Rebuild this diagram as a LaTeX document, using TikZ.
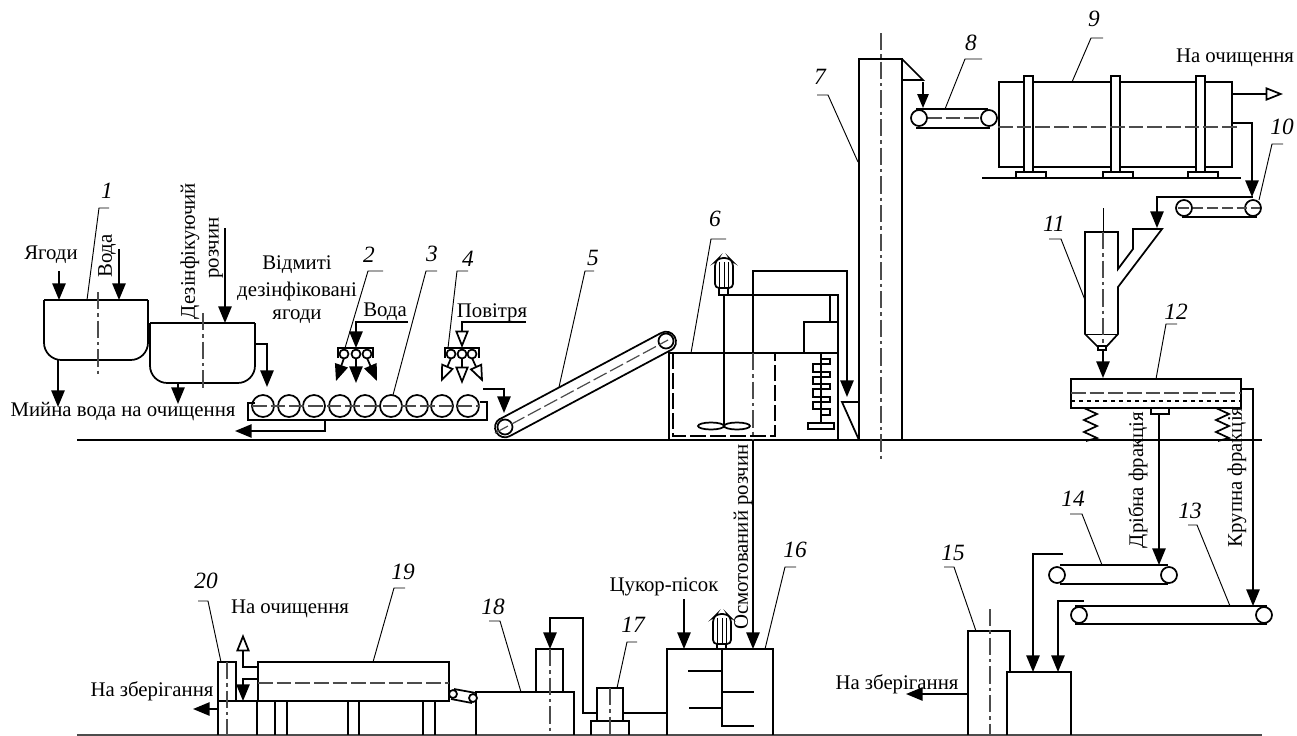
\documentclass[tikz,border=0pt]{standalone}
\usepackage{fontspec}
\setmainfont{Liberation Serif}
\usetikzlibrary{arrows.meta}
\tikzset{
  ln/.style={line width=1.3pt,line join=miter},
  thinl/.style={line width=.7pt},
  flow/.style={ln,-{Triangle[length=12.5pt,width=10pt]}},
  sflow/.style={ln,-{Triangle[length=10.5pt,width=8.5pt]}},
  oflow/.style={ln,-{Triangle[open,fill=white,length=13pt,width=10pt]}},
  ax/.style={line width=.8pt,black!70,dash pattern=on 13pt off 3pt on 2.5pt off 3pt},
  dsh/.style={line width=.9pt,black!70,dash pattern=on 11pt off 3pt},
  lbl/.style={inner sep=0pt,font=\fontsize{15.6}{17}\selectfont},
  vl/.style={lbl,rotate=90},
  num/.style={inner sep=0pt,font=\fontsize{17.5}{19}\selectfont\itshape},
  roll/.style={ln,fill=white},
}
\begin{document}
\begin{tikzpicture}[x=0.75pt,y=-0.75pt]
\useasboundingbox (0,0) rectangle (1297,736);
\fill[white] (0,0) rectangle (1297,736);

% floors
\draw[ln] (77,440) -- (1262,440);
\draw[ln,black!70] (77,735) -- (1262,735);

% tank 1
\draw[ln,rounded corners=13pt] (44,300) -- (44,360) -- (148,360) -- (148,300);
\draw[ln] (44,300) -- (148,300);
\draw[ax] (98,292) -- (98,377);
\draw[flow] (59,271) -- (59,300);
\draw[flow] (119,249) -- (119,300);
\draw[flow] (58,360) -- (58,407);
\draw[thinl] (87,300) -- (99,208) -- (109,208);
\node[num] (n1) at (107,191) {1};
\node[lbl] (t1) at (51,255) {Ягоди};
\node[vl] (t2) at (107,256) {Вода};
% tank 2
\draw[ln,rounded corners=13pt] (150,323) -- (150,383) -- (255,383) -- (255,323);
\draw[ln] (150,323) -- (255,323);
\draw[ax] (203,313) -- (203,390);
\draw[flow] (225,228) -- (225,323);
\draw[flow] (178,383) -- (178,404);
\draw[flow] (255,344) -- (267,344) -- (267,387);
\node[vl] (t3) at (190,251) {Дезінфікуючий};
\node[vl] (t4) at (216,248) {розчин};
\node[lbl] (t5) at (297,265) {Відмиті};
\node[lbl] (t6) at (297,291) {дезінфіковані};
\node[lbl] (t7) at (297,317) {ягоди};
\node[lbl] (t8) at (123,412) {Мийна вода на очищення};

% roller conveyor 3
\draw[ln] (255,403) -- (248,403) -- (248,420) -- (487,420) -- (487,402) -- (480,402);
\foreach \x in {263,289,314,340,365,391,417,442,468} \draw[ln] (\x,406) circle[radius=11];
\draw[dsh] (252,406) -- (480,406);
\draw[flow] (325,420) -- (325,431) -- (235,431);
\draw[thinl] (393,395) -- (426,271) -- (437,271);
\node[num] (n3) at (432,254) {3};

% nozzles 2
\draw[ln] (338,358) -- (338,348) -- (373,348) -- (373,358);
\foreach \x in {344,356,367} \draw[ln] (\x,354) circle[radius=4.5];
\draw[flow] (408,322) -- (356,322) -- (356,348);
\draw[flow] (356,358) -- (356,383);
\draw[flow] (344,358) -- (336,381);
\draw[flow] (367,358) -- (377,381);
\node[lbl] (t9) at (385,312) {Вода};
\draw[thinl] (345,348) -- (368,271) -- (383,271);
\node[num] (n2) at (369,255) {2};
% nozzles 4
\draw[ln] (445,358) -- (445,348) -- (479,348) -- (479,358);
\foreach \x in {451,462,472} \draw[ln] (\x,354) circle[radius=4.5];
\draw[oflow] (526,322) -- (462,322) -- (462,348);
\draw[oflow] (462,358) -- (462,384);
\draw[oflow] (451,358) -- (441,382);
\draw[oflow] (472,358) -- (483,382);
\node[lbl] (t10) at (492,313) {Повітря};
\draw[thinl] (448,348) -- (457,271) -- (468,271);
\node[num] (n4) at (468,259) {4};
\draw[flow] (483,389) -- (504,389) -- (504,413);

% inclined conveyor 5
\draw[ln] (500,419) -- (661,333);
\draw[ln] (510,436) -- (671,350);
\draw[ln] (510,436) arc[start angle=60,end angle=240,radius=10];
\draw[ln] (661,333) arc[start angle=240,end angle=420,radius=10];
\draw[ln] (505,427) circle[radius=7.5];
\draw[ln] (666,341) circle[radius=7.5];
\draw[dsh] (495,433) -- (668,340);
\draw[thinl] (559,387) -- (585,271) -- (594,271);
\node[num] (n5) at (593,258) {5};

% tank 6
\draw[ln] (669,440) -- (669,353) -- (838,353) -- (838,440);
\draw[ln,dash pattern=on 12pt off 3pt] (673,353) -- (673,436) -- (775,436) -- (775,353);
\draw[ax] (753,353) -- (753,440);
\draw[ln] (724,295) -- (724,425);
\draw[ln] (711,426) ellipse[x radius=13,y radius=3.5];
\draw[ln] (737,426) ellipse[x radius=13,y radius=3.5];
% motor 6
\draw[ln,rounded corners=3pt] (715,288) -- (715,262) -- (719,258) -- (729,258) -- (733,262) -- (733,288) -- cycle;
\foreach \x in {719.5,724,728.5} \draw[thinl] (\x,262) -- (\x,288);
\draw[ln] (719,288) rectangle (728,295);
\draw[ln] (728,295) -- (838,295) -- (838,353);
\draw[ln] (830,295) -- (830,322);
\draw[ln] (804,353) -- (804,322) -- (838,322);
\draw[flow] (753,353) -- (753,271) -- (847,271) -- (847,397);
% coil
\draw[ln] (821,353) -- (821,423);
\draw[ln] (821,359) -- (830,359) -- (830,364) -- (813,364) -- (813,372) -- (830,372) -- (830,377) -- (813,377) -- (813,384) -- (830,384) -- (830,389) -- (813,389) -- (813,397) -- (830,397) -- (830,402) -- (813,402) -- (813,409) -- (830,409) -- (830,415) -- (821,415);
\draw[ln] (808,423) rectangle (834,429);
\draw[thinl] (691,353) -- (711,239) -- (726,239);
\node[num] (n6) at (715,219) {6};
% chute
\draw[ln] (859,402) -- (842,402) -- (859,440);

% elevator 7
\draw[ln] (859,440) -- (859,59) -- (902,59) -- (902,440);
\draw[ax] (881,33) -- (881,460);
\draw[ln] (902,59) -- (923,80) -- (902,80);
\draw[thinl] (858,162) -- (828,95) -- (817,95);
\node[num] (n7) at (820,77) {7};
\draw[sflow] (923,82) -- (923,108);

% conveyor 8
\draw[ln] (916,109) -- (988,109);
\draw[ln] (916,128) -- (990,128);
\draw[dsh] (927,118) -- (981,118);
\draw[roll] (919,118) circle[radius=8];
\draw[roll] (989,118) circle[radius=8];
\draw[thinl] (945,109) -- (965,59) -- (982,59);
\node[num] (n8) at (971,43) {8};

% dryer 9
\draw[ln] (999,82) rectangle (1232,167);
\foreach \x in {1024,1111,1196} {
  \draw[ln,fill=white] (\x,76) rectangle (\x+9,172);
  \draw[ln] (\x-8,178) -- (\x-8,172) -- (\x+22,172) -- (\x+22,178);
}
\draw[dsh] (998,127) -- (1237,127);
\draw[ln] (982,178) -- (1241,178);
\draw[thinl] (1072,82) -- (1091,38) -- (1103,38);
\node[num] (n9) at (1094,19) {9};
\draw[oflow] (1232,94) -- (1283,94);
\node[lbl] (t11) at (1235,58) {На очищення};
\draw[flow] (1232,123) -- (1252,123) -- (1252,197);

% conveyor 10
\draw[flow] (1253,197) -- (1157,197) -- (1157,228);
\draw[ln] (1182,217) -- (1257,217);
\draw[roll] (1184,208) circle[radius=8];
\draw[roll] (1253,208) circle[radius=8];
\draw[dsh,dash pattern=on 8pt off 3pt] (1178,208) -- (1260,208);
\draw[thinl] (1259,200) -- (1272,144) -- (1283,144);
\node[num] (n10) at (1282,127) {10};

% cyclone 11
\draw[ln] (1085,334) -- (1085,232) -- (1118,232) -- (1118,269) -- (1133,249) -- (1133,229) -- (1162,229) -- (1118,287) -- (1118,334) -- (1107,346) -- (1097,346) -- (1085,334) -- cycle;
\draw[thinl] (1085,334) -- (1118,334);
\draw[ln] (1098,346) rectangle (1106,350);
\draw[thinl] (1103,208) -- (1103,232);
\draw[ax] (1103,232) -- (1103,346);
\draw[flow] (1103,350) -- (1103,378);
\draw[thinl] (1085,300) -- (1061,239) -- (1049,239);
\node[num] (n11) at (1054,224) {11};

% screen 12
\draw[ln] (1071,379) rectangle (1241,408);
\draw[dsh] (1071,393) -- (1241,393);
\draw[line width=2.2pt,dash pattern=on 3pt off 3pt] (1071,401) -- (1241,401);
\draw[thinl] (1156,379) -- (1166,324) -- (1177,324);
\node[num] (n12) at (1176,312) {12};
\draw[ln] (1084,408) -- (1097,414) -- (1084,420) -- (1097,426) -- (1084,432) -- (1097,438) -- (1086,441);
\draw[ln] (1216,408) -- (1229,414) -- (1216,420) -- (1229,426) -- (1216,432) -- (1229,438) -- (1218,441);
\draw[ln] (1151,408) rectangle (1169,414);
\draw[flow] (1159,414) -- (1159,565);
\draw[flow] (1241,389) -- (1253,389) -- (1253,606);
\node[vl] (t12) at (1138,480) {Дрібна фракція};
\node[vl] (t13) at (1237,477) {Крупна фракція};

% conveyor 14
\draw[ln] (1060,565) -- (1168,565);
\draw[ln] (1060,584) -- (1168,584);
\draw[roll] (1057,575) circle[radius=8];
\draw[roll] (1169,575) circle[radius=8];
\draw[thinl] (1102,565) -- (1082,514) -- (1070,514);
\node[num] (n14) at (1073,499) {14};
% conveyor 13
\draw[ln] (1075,606) -- (1267,606);
\draw[ln] (1075,624) -- (1267,624);
\draw[roll] (1079,615) circle[radius=8];
\draw[roll] (1264,615) circle[radius=8];
\draw[thinl] (1230,606) -- (1197,525) -- (1188,525);
\node[num] (n13) at (1190,511) {13};

% 15 and bunker
\draw[ln] (1007,735) -- (1007,672) -- (1071,672) -- (1071,735);
\draw[flow] (1063,554) -- (1033,554) -- (1033,672);
\draw[flow] (1084,601) -- (1058,601) -- (1058,672);
\draw[ln] (968,735) -- (968,631) -- (1010,631) -- (1010,672);
\draw[ax] (990,609) -- (990,735);
\draw[flow] (968,694) -- (906,694);
\draw[thinl] (976,631) -- (954,567) -- (944,567);
\node[num] (n15) at (953,553) {15};
\node[lbl] (t14) at (897,684) {На зберігання};

% tank 16
\draw[ln] (667,735) -- (667,649) -- (773,649) -- (773,735);
\draw[ln] (722,649) -- (722,726) -- (754,726);
\draw[ln] (688,671) -- (722,671);
\draw[ln] (689,708) -- (722,708);
\draw[ln] (722,692) -- (754,692);
\draw[ln,rounded corners=3pt] (713,644) -- (713,618) -- (717,614) -- (727,614) -- (731,618) -- (731,644) -- cycle;
\foreach \x in {717.5,722,726.5} \draw[thinl] (\x,618) -- (\x,644);
\draw[ln] (717,644) rectangle (726,649);
\draw[flow] (753,440) -- (753,649);
\node[vl] (t15) at (743,537) {Осмотований розчин};
\draw[flow] (684,599) -- (684,649);
\node[lbl] (t16) at (664,587) {Цукор-пісок};
\draw[thinl] (765,649) -- (785,567) -- (796,567);
\node[num] (n16) at (795,550) {16};

% 17
\draw[ln] (597,688) rectangle (623,721);
\draw[ln] (591,735) -- (591,721) -- (629,721) -- (629,735);
\draw[ax] (610,688) -- (610,735);
\draw[ln] (623,713) -- (667,713);
\draw[thinl] (617,688) -- (627,642) -- (637,642);
\node[num] (n17) at (633,625) {17};

% 18
\draw[ln] (476,735) -- (476,692) -- (574,692) -- (574,735);
\draw[ln] (536,692) -- (536,649) -- (563,649) -- (563,692);
\draw[flow] (597,713) -- (583,713) -- (583,618) -- (550,618) -- (550,649);
\draw[ax] (550,649) -- (550,735);
\draw[thinl] (521,692) -- (500,621) -- (489,621);
\node[num] (n18) at (493,607) {18};
% small conveyor
\draw[ln] (454,689) -- (476,693);
\draw[ln] (451,699) -- (472,703);
\draw[roll] (453,694) circle[radius=4];
\draw[roll] (473,698) circle[radius=4];

% 19
\draw[ln] (258,662) rectangle (449,701);
\draw[dsh] (258,683) -- (449,683);
\draw[ln] (218,701) -- (258,701);
\foreach \x in {257,275,287,348,359,423,435} \draw[ln] (\x,701) -- (\x,735);
\draw[thinl] (373,662) -- (394,588) -- (405,588);
\node[num] (n19) at (403,572) {19};
\node[lbl] (t17) at (290,609) {На очищення};
\draw[oflow] (258,667) -- (243,667) -- (243,634);
\draw[flow] (258,679) -- (243,679) -- (243,701);

% 20
\draw[ln] (218,735) -- (218,662) -- (236,662) -- (236,701);
\draw[ax] (227,662) -- (227,735);
\draw[flow] (218,709) -- (193,709);
\draw[thinl] (221,662) -- (208,601) -- (198,601);
\node[num] (n20) at (206,581) {20};
\node[lbl] (t18) at (152,691) {На зберігання};
\end{tikzpicture}
\end{document}
